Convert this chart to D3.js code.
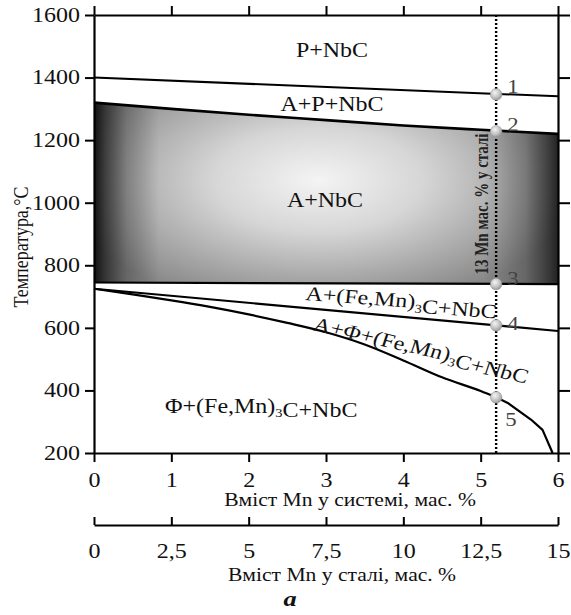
<!DOCTYPE html>
<html><head><meta charset="utf-8">
<script src="https://cdn.jsdelivr.net/npm/d3@7"></script>
<style>
body{margin:0;background:#fff;overflow:hidden}
svg{display:block}
text{font-family:"Liberation Serif","Times New Roman",serif;fill:#111}
</style>
</head><body>
<svg id="c" width="571" height="615"></svg>
<script>
// ---- data ----
const xTicksSystem = [0, 1, 2, 3, 4, 5, 6];
const xTicksSteel = [0, 2.5, 5, 7.5, 10, 12.5, 15];
const xTicksSteelLabels = ["0", "2,5", "5", "7,5", "10", "12,5", "15"];
const yTicks = [200, 400, 600, 800, 1000, 1200, 1400, 1600];
const line1 = [[0, 1400], [6, 1340]];
const line2 = [[0, 1320], [1, 1300], [2, 1281], [3, 1264], [4, 1247], [5, 1233], [6, 1220]];
const line3 = [[0, 745], [6, 740]];
const line4 = [[0, 725], [6, 590]];
const line5Smooth = [[0, 725], [0.5, 707], [1, 688], [1.5, 667], [2, 643], [2.5, 616], [3, 586], [3.5, 547],
                     [4, 496], [4.5, 442], [5, 398], [5.2, 378]];
const line5Tail = [[5.2, 378], [5.35, 360], [5.65, 307], [5.8, 274], [5.93, 200]];
const sectionX = 5.2;
const pointTemps = [1346, 1228, 740, 608, 378];
const pointNames = ["1", "2", "3", "4", "5"];

// ---- layout ----
const svg = d3.select("#c");
const L = 94, R = 558, T = 15, B = 453;
const x = d3.scaleLinear().domain([0, 6]).range([L, R]);
const xs = d3.scaleLinear().domain([0, 15]).range([L, R]);
const y = d3.scaleLinear().domain([200, 1600]).range([B, T]);
const SX = 1.2;

const defs = svg.append("defs");
const g = defs.append("radialGradient").attr("id", "grad")
  .attr("gradientUnits", "userSpaceOnUse")
  .attr("cx", 318).attr("cy", 180).attr("r", 260)
  .attr("gradientTransform", "translate(318,180) scale(1,0.5) translate(-318,-180)");
[[0, "#f4f4f4"], [0.4, "#d6d6d6"], [0.75, "#a8a8a8"], [1, "#888888"]]
  .forEach(([o, c]) => g.append("stop").attr("offset", o).attr("stop-color", c));
const gh = defs.append("linearGradient").attr("id", "edge").attr("x1", 0).attr("x2", 1).attr("y1", 0).attr("y2", 0);
[[0, 0.88], [0.025, 0.6], [0.07, 0.25], [0.14, 0], [0.84, 0], [0.93, 0.25], [0.975, 0.55], [1, 0.75]]
  .forEach(([o, a]) => gh.append("stop").attr("offset", o).attr("stop-color", "#000").attr("stop-opacity", a));
const pg = defs.append("radialGradient").attr("id", "pt").attr("cx", 0.4).attr("cy", 0.35).attr("r", 0.7);
[[0, "#f4f4f4"], [0.6, "#c2c2c2"], [1, "#8e8e8e"]]
  .forEach(([o, c]) => pg.append("stop").attr("offset", o).attr("stop-color", c));

// gradient region between line2 and line3
const region = line2.map(d => [x(d[0]), y(d[1])]).concat(line3.slice().reverse().map(d => [x(d[0]), y(d[1])]));
const regionD = "M" + region.join("L") + "Z";
svg.append("path").attr("d", regionD).attr("fill", "url(#grad)");
svg.append("path").attr("d", regionD).attr("fill", "url(#edge)");

const ln = d3.line().x(d => x(d[0])).y(d => y(d[1]));
const lnS = d3.line().x(d => x(d[0])).y(d => y(d[1])).curve(d3.curveMonotoneX);
[[ln, line1, 2], [lnS, line2, 2.6], [ln, line3, 2.2], [ln, line4, 2.2], [lnS, line5Smooth, 2.2], [ln, line5Tail, 2.2]]
  .forEach(([f, d, w]) =>
    svg.append("path").attr("d", f(d)).attr("fill", "none").attr("stroke", "#000")
      .attr("stroke-width", w).attr("stroke-linejoin", "round"));

// dotted section line
svg.append("line").attr("x1", x(sectionX)).attr("x2", x(sectionX)).attr("y1", y(1600)).attr("y2", y(200))
  .attr("stroke", "#000").attr("stroke-width", 2.4).attr("stroke-dasharray", "2,2");

// helper for stretched text
function place(sel, px, py, rot) {
  sel.attr("transform", `translate(${px},${py}) scale(${SX},1)` + (rot ? ` rotate(${rot})` : ""));
  return sel;
}
function richLabel(parts, px, py, rot, size) {
  const t = svg.append("text").attr("font-size", size);
  parts.forEach(p => {
    if (p.sub) {
      t.append("tspan").attr("font-size", size * 0.6).attr("dy", size * 0.22).text(p.sub);
      t.append("tspan").attr("dy", -size * 0.22).text("");
    } else t.append("tspan").text(p.t);
  });
  return place(t, px, py, rot);
}

// region labels
place(svg.append("text").attr("font-size", 20).attr("text-anchor", "middle").text("P+NbC"), 332, 57);
place(svg.append("text").attr("font-size", 20).attr("text-anchor", "middle").text("A+P+NbC"), 332, 111);
place(svg.append("text").attr("font-size", 20).attr("text-anchor", "middle").text("A+NbC"), 325, 207);
richLabel([{t: "A+(Fe,Mn)"}, {sub: "3"}, {t: "C+NbC"}], 305, 300, 5, 20);
richLabel([{t: "A+Φ+(Fe,Mn)"}, {sub: "3"}, {t: "C+NbC"}], 312, 330, 15.4, 20);
richLabel([{t: "Φ+(Fe,Mn)"}, {sub: "3"}, {t: "C+NbC"}], 165, 413, 0, 20);

// vertical section label
place(svg.append("text").attr("font-size", 15).attr("font-weight", "bold").attr("text-anchor", "middle")
  .style("fill", "#222").text("13 Mn мас. % у сталі"), 488, 204, -90);

// points
const pts = svg.append("g");
pointTemps.forEach((t, i) => {
  pts.append("circle").attr("cx", x(sectionX)).attr("cy", y(t)).attr("r", 5.8)
    .attr("fill", "url(#pt)").attr("stroke", "#9a9a9a").attr("stroke-width", 0.6);
});
const lblOff = [[11, -8], [11, -7], [11, -6], [11, -2], [9, 22]];
pointNames.forEach((n, i) => {
  place(svg.append("text").attr("font-size", 19).attr("dy", "0.35em").style("fill", "#444").text(n),
    x(sectionX) + lblOff[i][0], y(pointTemps[i]) + lblOff[i][1]);
});

// axes
function styleAxis(a) {
  a.selectAll("path,line").attr("stroke", "#000").attr("stroke-width", 2);
  a.selectAll("text").attr("font-size", 20).attr("fill", "#111")
    .style("font-family", '"Liberation Serif","Times New Roman",serif')
    .each(function () {
      const t = d3.select(this);
      const tx = +t.attr("x") || 0, ty = +t.attr("y") || 0;
      t.attr("x", null).attr("y", null).attr("transform", `translate(${tx},${ty}) scale(${SX},1)`);
    });
}
const aL = svg.append("g").attr("transform", `translate(${L},0)`)
  .call(d3.axisLeft(y).tickValues(yTicks).tickSize(9).tickPadding(5).tickSizeOuter(0).tickFormat(d3.format("d")));
styleAxis(aL);
const aR = svg.append("g").attr("transform", `translate(${R},0)`)
  .call(d3.axisRight(y).tickValues(yTicks).tickSize(12).tickSizeOuter(0).tickFormat(""));
styleAxis(aR);
const aT = svg.append("g").attr("transform", `translate(0,${T})`)
  .call(d3.axisTop(x).tickValues(xTicksSystem).tickSize(9).tickSizeOuter(0).tickFormat(""));
styleAxis(aT);
const aB = svg.append("g").attr("transform", `translate(0,${B})`)
  .call(d3.axisBottom(x).tickValues(xTicksSystem).tickSize(9).tickPadding(11).tickSizeOuter(0).tickFormat(d3.format("d")));
styleAxis(aB);
const aB2 = svg.append("g").attr("transform", `translate(0,525)`)
  .call(d3.axisBottom(xs).tickValues(xTicksSteel).tickSize(-8).tickPadding(19).tickSizeOuter(0)
    .tickFormat((d, i) => xTicksSteelLabels[i]));
styleAxis(aB2);
svg.selectAll(".domain").attr("stroke-width", 2.2);

// titles
place(svg.append("text").attr("font-size", 18).attr("text-anchor", "middle").text("Вміст Mn у системі, мас. %"), 350, 506);
place(svg.append("text").attr("font-size", 18).attr("text-anchor", "middle").text("Вміст Mn у сталі, мас. %"), 342, 581);
place(svg.append("text").attr("font-size", 18).attr("text-anchor", "middle").text("Температура,°C"), 28, 247, -90);
place(svg.append("text").attr("font-size", 22).attr("font-weight", "bold").attr("font-style", "italic")
  .attr("text-anchor", "middle").text("a"), 290, 606);
</script>
</body></html>
